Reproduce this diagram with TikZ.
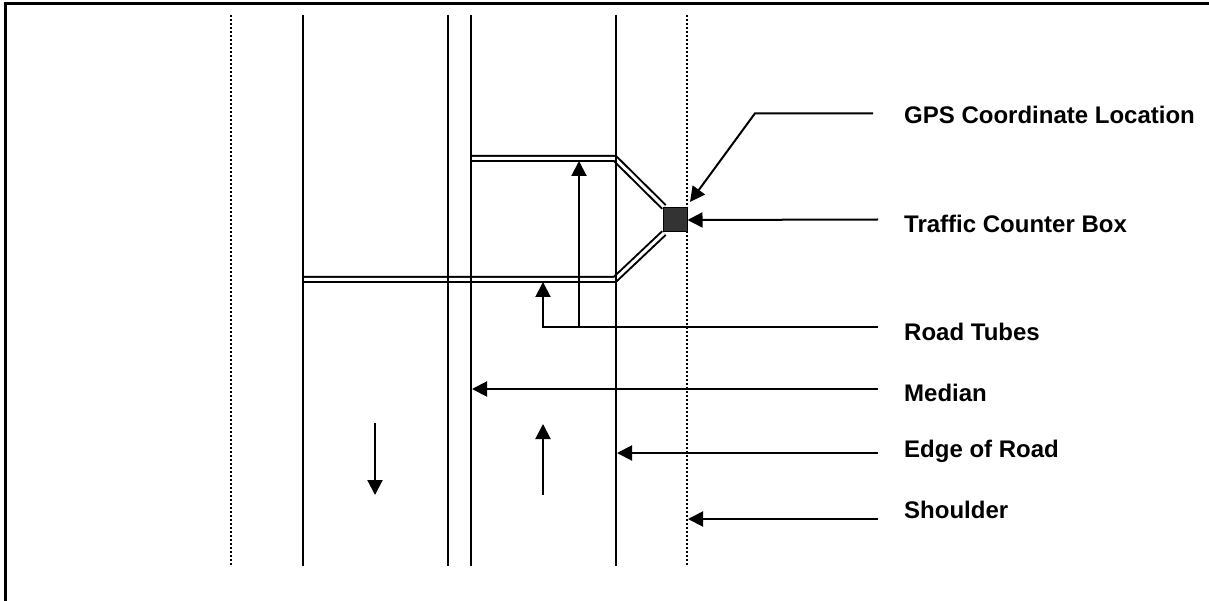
\documentclass[tikz,border=0pt]{standalone}
\usepackage{fontspec}
\setmainfont{Liberation Sans}
\usetikzlibrary{arrows.meta}
\begin{document}
\begin{tikzpicture}[x=1pt,y=-1pt,
  road/.style={line width=2pt},
  dotline/.style={line width=2.2pt,dash pattern=on 2pt off 2pt},
  tube/.style={double,double distance=3pt,line width=2pt},
  arr/.style={line width=2pt,-{Triangle[length=15pt,width=15pt]}},
  lbl/.style={anchor=base west,inner sep=0pt,font=\fontsize{24}{28}\selectfont\bfseries}]
\useasboundingbox (0,0) rectangle (1209,601);
% frame (left and top visible)
\draw[line width=2.5pt] (5.3,601) -- (5.3,3.3) -- (1209,3.3);
% tubes
\draw[tube] (303,279.3) -- (615,279.3) -- (664,233);
\draw[tube] (470,158.5) -- (615,158.5) -- (664,207);
% road lines
\draw[dotline] (231,15) -- (231,566);
\draw[road] (303,15) -- (303,566);
\draw[road] (448,15) -- (448,566);
\draw[road] (470.5,15) -- (470.5,566);
\draw[road] (615.5,15) -- (615.5,566);
\draw[dotline] (687,15) -- (687,566);
% counter box
\node[draw=black,line width=1pt,fill=black!80,minimum width=24pt,minimum height=24pt,inner sep=0pt] (box) at (675,220) {};
% labels
\node[lbl] (gps) at (904,124) {GPS Coordinate Location};
\node[lbl] (tcb) at (904,233) {Traffic Counter Box};
\node[lbl] (rt) at (904,341) {Road Tubes};
\node[lbl] (med) at (904,401) {Median};
\node[lbl] (edge) at (904,457) {Edge of Road};
\node[lbl] (sh) at (904,518) {Shoulder};
% leader points
\coordinate (gpsS) at (873,113.3);
\coordinate (gpsK) at (755,113.3);
\coordinate (gpsT) at (690,202);
\coordinate (tcbS) at (878,219.5);
\coordinate (rtS) at (878,327);
\coordinate (rtK) at (543,327);
\coordinate (rtT) at (543,282);
\coordinate (rtK2) at (579,327);
\coordinate (rtT2) at (579,161);
\coordinate (medS) at (878,389);
\coordinate (medT) at (472,389);
\coordinate (edgeS) at (878,453);
\coordinate (edgeT) at (617,453);
\coordinate (shS) at (878,519);
\coordinate (shT) at (688,519);
% connectors
\draw[arr] (gpsS) -- (gpsK) -- (gpsT);
\draw[arr] (tcbS) -- (box.east);
\draw[arr] (rtS) -- (rtK) -- (rtT);
\draw[arr] (rtK2) -- (rtT2);
\draw[arr] (medS) -- (medT);
\draw[arr] (edgeS) -- (edgeT);
\draw[arr] (shS) -- (shT);
% direction of travel
\coordinate (dnA) at (375,423);
\coordinate (dnB) at (375,495);
\coordinate (upA) at (543,495);
\coordinate (upB) at (543,424);
\draw[arr] (dnA) -- (dnB);
\draw[arr] (upA) -- (upB);
\end{tikzpicture}
\end{document}
